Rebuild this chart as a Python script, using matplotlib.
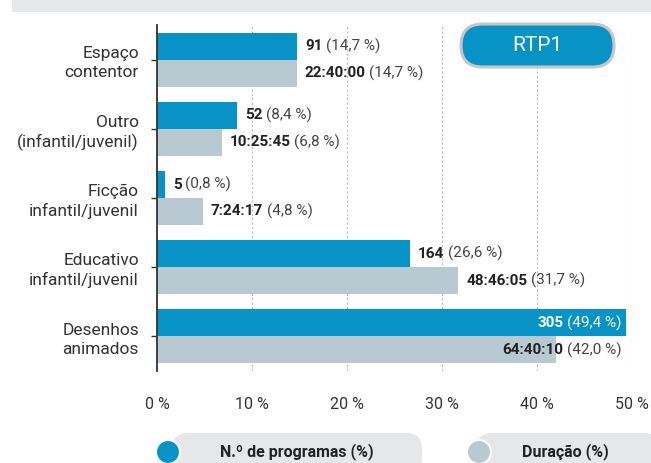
import matplotlib
matplotlib.use("Agg")
import matplotlib.pyplot as plt
from matplotlib.patches import FancyBboxPatch, Circle, Rectangle
from matplotlib.transforms import IdentityTransform

categories = ["Espaço\ncontentor", "Outro\n(infantil/juvenil)", "Ficção\ninfantil/juvenil",
              "Educativo\ninfantil/juvenil", "Desenhos\nanimados"]
programas_n = ["91", "52", "5", "164", "305"]
programas_pct = [14.7, 8.4, 0.8, 26.6, 49.4]
duracao_txt = ["22:40:00", "10:25:45", "7:24:17", "48:46:05", "64:40:10"]
duracao_pct = [14.7, 6.8, 4.8, 31.7, 42.0]
x_ticks = [0, 10, 20, 30, 40, 50]
legend_labels = ["N.º de programas (%)", "Duração (%)"]
badge = "RTP1"

BLUE = "#0893c6"
GREY = "#b9c9d2"
PILL = "#e6e7e9"
DARK = "#222222"

plt.rcParams["font.family"] = ["Liberation Sans Narrow", "Roboto", "DejaVu Sans"]


def fmt_pct(v):
    return f"({v:.1f} %)".replace(".", ",")


fig = plt.figure(figsize=(6.51, 4.63), dpi=100)
ax = fig.add_axes([157 / 651, 1 - 371 / 463, 475 / 651, 346 / 463])

bh = 0.39
ys = list(range(len(categories)))
ax.barh([y - bh / 2 for y in ys], programas_pct, height=bh, color=BLUE, zorder=3)
ax.barh([y + bh / 2 for y in ys], duracao_pct, height=bh, color=GREY, zorder=3)

ax.set_xlim(0, 50)
ax.set_ylim(4.5, -0.5)
ax.set_yticks(ys)
ax.set_yticklabels(categories, fontsize=12.5, color="#333333", linespacing=1.3, ha="right")
ax.set_xticks(x_ticks)
ax.set_xticklabels([f"{t} %" for t in x_ticks], fontsize=11.5, color="#333333")
ax.tick_params(axis="y", length=4, width=1, color="#333333", pad=9)
ax.tick_params(axis="x", length=0, pad=19)
for s in ("top", "right", "bottom"):
    ax.spines[s].set_visible(False)
ax.spines["left"].set_color("#333333")
ax.spines["left"].set_linewidth(1.3)
ax.spines["left"].set_zorder(4)
ax.grid(axis="x", color="#bdbdbd", linestyle=(0, (2, 2)), linewidth=0.8, zorder=0)
ax.set_axisbelow(True)


def label(x, y, bold, rest, inside, color_bold, color_rest):
    if inside:
        t2 = ax.annotate(rest, xy=(x, y), xytext=(-3.5, 0), textcoords="offset points",
                         ha="right", va="center", fontsize=11, color=color_rest, zorder=5)
        ax.annotate(bold, xy=(0, 0.5), xycoords=t2, xytext=(-2.5, 0), textcoords="offset points",
                    ha="right", va="center", fontsize=11, fontweight="bold", color=color_bold, zorder=5)
    else:
        t1 = ax.annotate(bold, xy=(x, y), xytext=(6, 0), textcoords="offset points",
                         ha="left", va="center", fontsize=11, fontweight="bold", color=color_bold, zorder=5)
        ax.annotate(rest, xy=(1, 0.5), xycoords=t1, xytext=(2.5, 0), textcoords="offset points",
                    ha="left", va="center", fontsize=11, color=color_rest, zorder=5)


for i, y in enumerate(ys):
    inside = max(programas_pct[i], duracao_pct[i]) > 40
    anchor = programas_pct[i]
    label(anchor, y - bh / 2, programas_n[i], fmt_pct(programas_pct[i]), inside,
          "white" if inside else DARK, "white" if inside else "#444444")
    label(anchor if inside else duracao_pct[i], y + bh / 2, duracao_txt[i], fmt_pct(duracao_pct[i]),
          inside, DARK, "#444444")

# header band (title cut off at the top of the crop)
fig.add_artist(Rectangle((12, 451), 640, 12, transform=IdentityTransform(),
                         facecolor=PILL, edgecolor="none"))

# RTP1 badge
fig.add_artist(FancyBboxPatch((461, 396), 153, 43, boxstyle="round,pad=0,rounding_size=21.5",
                              transform=IdentityTransform(), facecolor=BLUE,
                              edgecolor="#c5c7c9", linewidth=2.2, zorder=6))
fig.text(537.5, 417.5, badge, transform=IdentityTransform(), ha="center", va="center",
         fontsize=15, color="white", zorder=7)

# legend pills
pills = [(172, 422, 168, BLUE, 297), (476, 660, 479, GREY, 565)]
for (x0, x1, cx, col, tx), lab in zip(pills, legend_labels):
    fig.add_artist(FancyBboxPatch((x0, -10), x1 - x0, 40, boxstyle="round,pad=0,rounding_size=16",
                                  transform=IdentityTransform(), facecolor=PILL,
                                  edgecolor="none", zorder=1))
    fig.add_artist(Circle((cx, 11), 12, transform=IdentityTransform(), facecolor=col,
                          edgecolor="white", linewidth=1.5, zorder=2))
    fig.text(tx, 11, lab, transform=IdentityTransform(), ha="center", va="center",
             fontsize=11.5, fontweight="bold", color=DARK, zorder=3)

fig.savefig("out.png", dpi=100)
